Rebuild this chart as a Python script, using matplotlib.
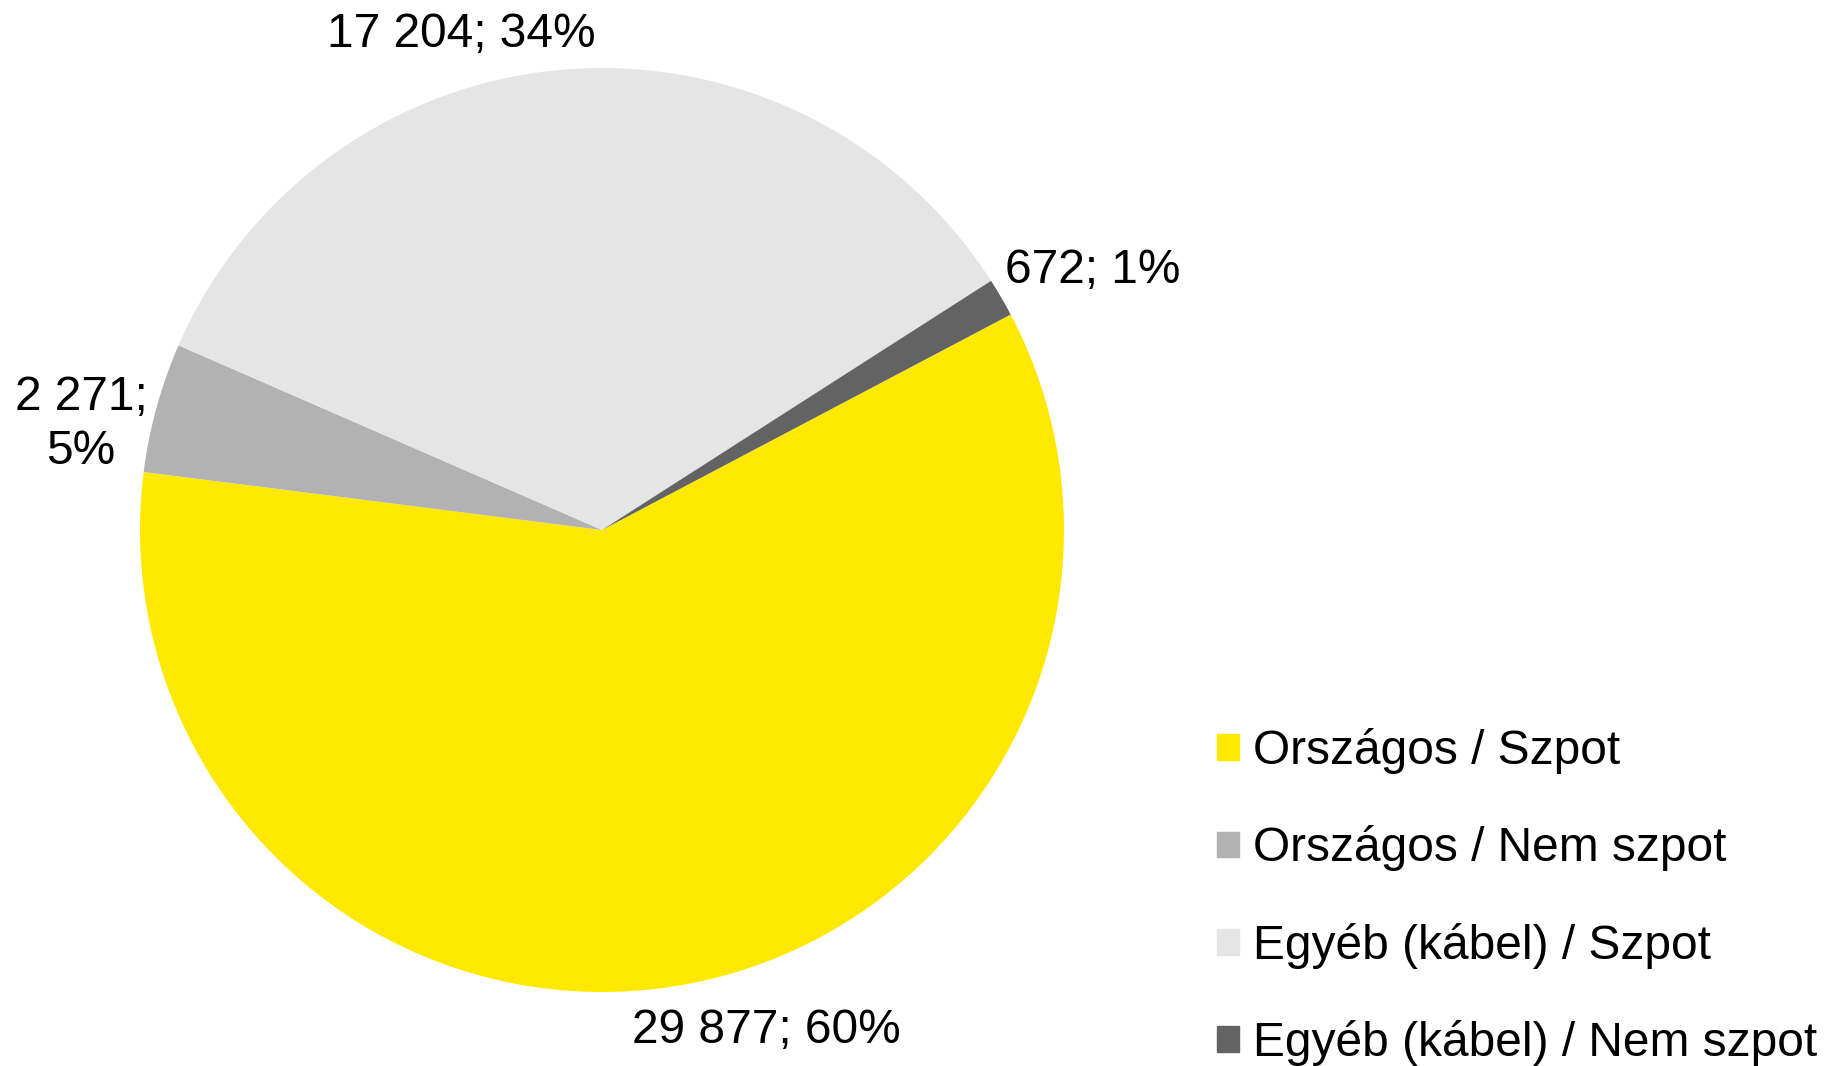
import numpy as np
import matplotlib
matplotlib.use('Agg')
import matplotlib.pyplot as plt

categories = ['Országos / Szpot', 'Országos / Nem szpot',
              'Egyéb (kábel) / Szpot', 'Egyéb (kábel) / Nem szpot']
values = [29877, 2271, 17204, 672]
label_texts = ['29 877; 60%', '2 271;\n5%', '17 204; 34%', '672; 1%']
colors = ['#FFE900', '#B2B2B2', '#E5E5E5', '#636363']

plt.rcParams['font.family'] = ['Liberation Sans', 'DejaVu Sans']

fig = plt.figure(figsize=(18.37, 10.66), dpi=100)
ax = fig.add_axes([0, 0, 1, 1])

# pie centre at (602, 530) px, radius 462 px
R = 462.0
cx, cy = 602.0, 530.0
wedges, _ = ax.pie(values, colors=colors, startangle=27.8, counterclock=False,
                   radius=1.0, wedgeprops=dict(linewidth=0))
ax.set_xlim(-cx / R, (1837 - cx) / R)
ax.set_ylim(-(1066 - cy) / R, cy / R)
ax.set_aspect('equal')
ax.axis('off')

# label placement: angle shift (deg) from wedge middle and radial distance
ang_shift = [7.9, 3.95, 11.3, -2.3]
dist = [1.140, 1.150, 1.115, 1.201]
for w, txt, da, r in zip(wedges, label_texts, ang_shift, dist):
    mid = np.deg2rad((w.theta1 + w.theta2) / 2.0 + da)
    ax.text(r * np.cos(mid), r * np.sin(mid), txt, ha='center', va='center',
            fontsize=34.5, linespacing=1.24)

handles = [plt.Rectangle((0, 0), 1, 1, color=c) for c in colors]
fig.legend(handles, categories, loc='lower left', bbox_to_anchor=(1198 / 1837, -0.018),
           frameon=False, fontsize=34.5, handlelength=0.45, handleheight=0.45,
           handletextpad=0.3, labelspacing=1.07, borderaxespad=0)

fig.savefig('out.png', dpi=100)
